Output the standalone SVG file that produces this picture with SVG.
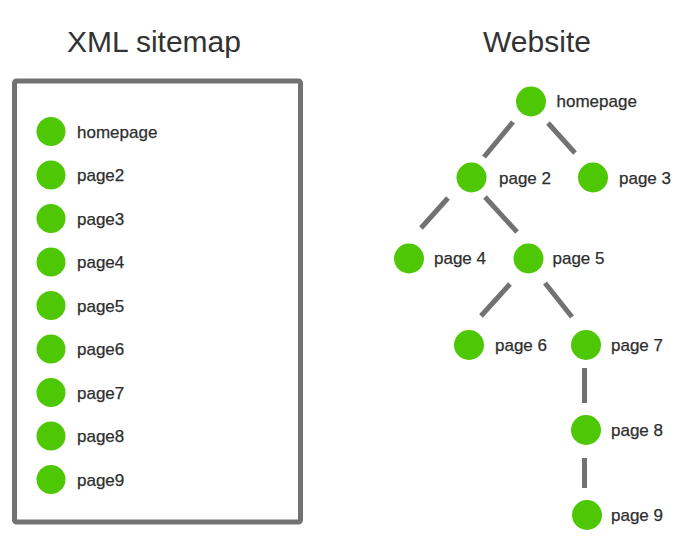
<svg xmlns="http://www.w3.org/2000/svg" width="680" height="547" viewBox="0 0 680 547">
<style>
.t{font-family:"Liberation Sans",Arial,sans-serif;font-size:30px;fill:#333;text-anchor:middle}
.l{font-family:"Liberation Sans",Arial,sans-serif;font-size:17px;fill:#2e2e2e;stroke:#2e2e2e;stroke-width:0.25}
.d{fill:#4EC804}
.c{stroke:#727272;stroke-width:5;fill:none}
</style>
<rect width="680" height="547" fill="#fff"/>
<text class="t" x="154" y="52">XML sitemap</text>
<text class="t" x="537" y="52">Website</text>
<rect x="14.5" y="81" width="286" height="441" rx="2" fill="#fff" stroke="#727272" stroke-width="5"/>
<g id="list">
<g id="l1"><circle class="d" cx="51" cy="131.5" r="14.5"/><text class="l" x="77" y="137.5">homepage</text></g>
<g id="l2"><circle class="d" cx="51" cy="175" r="14.5"/><text class="l" x="77" y="181">page2</text></g>
<g id="l3"><circle class="d" cx="51" cy="218.5" r="14.5"/><text class="l" x="77" y="224.5">page3</text></g>
<g id="l4"><circle class="d" cx="51" cy="262" r="14.5"/><text class="l" x="77" y="268">page4</text></g>
<g id="l5"><circle class="d" cx="51" cy="305.5" r="14.5"/><text class="l" x="77" y="311.5">page5</text></g>
<g id="l6"><circle class="d" cx="51" cy="349" r="14.5"/><text class="l" x="77" y="355">page6</text></g>
<g id="l7"><circle class="d" cx="51" cy="392.5" r="14.5"/><text class="l" x="77" y="398.5">page7</text></g>
<g id="l8"><circle class="d" cx="51" cy="436" r="14.5"/><text class="l" x="77" y="442">page8</text></g>
<g id="l9"><circle class="d" cx="51" cy="479.5" r="14.5"/><text class="l" x="77" y="485.5">page9</text></g>
</g>
<g id="connectors">
<line class="c" x1="513" y1="122" x2="484" y2="157"/>
<line class="c" x1="548" y1="123" x2="575" y2="153"/>
<line class="c" x1="448" y1="198" x2="421" y2="228"/>
<line class="c" x1="485" y1="197" x2="517" y2="232"/>
<line class="c" x1="510" y1="284" x2="481" y2="316"/>
<line class="c" x1="545" y1="283" x2="572" y2="317"/>
<line class="c" x1="584.5" y1="368" x2="584.5" y2="403"/>
<line class="c" x1="584.5" y1="458" x2="584.5" y2="488"/>
</g>
<g id="homepage"><circle class="d" cx="531" cy="101.5" r="15"/><text class="l" x="556.5" y="107">homepage</text></g>
<g id="page2"><circle class="d" cx="471.5" cy="177.5" r="15"/><text class="l" x="499" y="183.5">page 2</text></g>
<g id="page3"><circle class="d" cx="593" cy="177.5" r="15"/><text class="l" x="619" y="183.5">page 3</text></g>
<g id="page4"><circle class="d" cx="409" cy="258.5" r="15"/><text class="l" x="434" y="264">page 4</text></g>
<g id="page5"><circle class="d" cx="528.5" cy="258.5" r="15"/><text class="l" x="552.5" y="264">page 5</text></g>
<g id="page6"><circle class="d" cx="469" cy="345" r="15"/><text class="l" x="495" y="350.5">page 6</text></g>
<g id="page7"><circle class="d" cx="586" cy="345" r="15"/><text class="l" x="611" y="350.5">page 7</text></g>
<g id="page8"><circle class="d" cx="586" cy="430" r="15"/><text class="l" x="611" y="435.5">page 8</text></g>
<g id="page9"><circle class="d" cx="587" cy="515" r="15"/><text class="l" x="611" y="520.5">page 9</text></g>
</svg>
